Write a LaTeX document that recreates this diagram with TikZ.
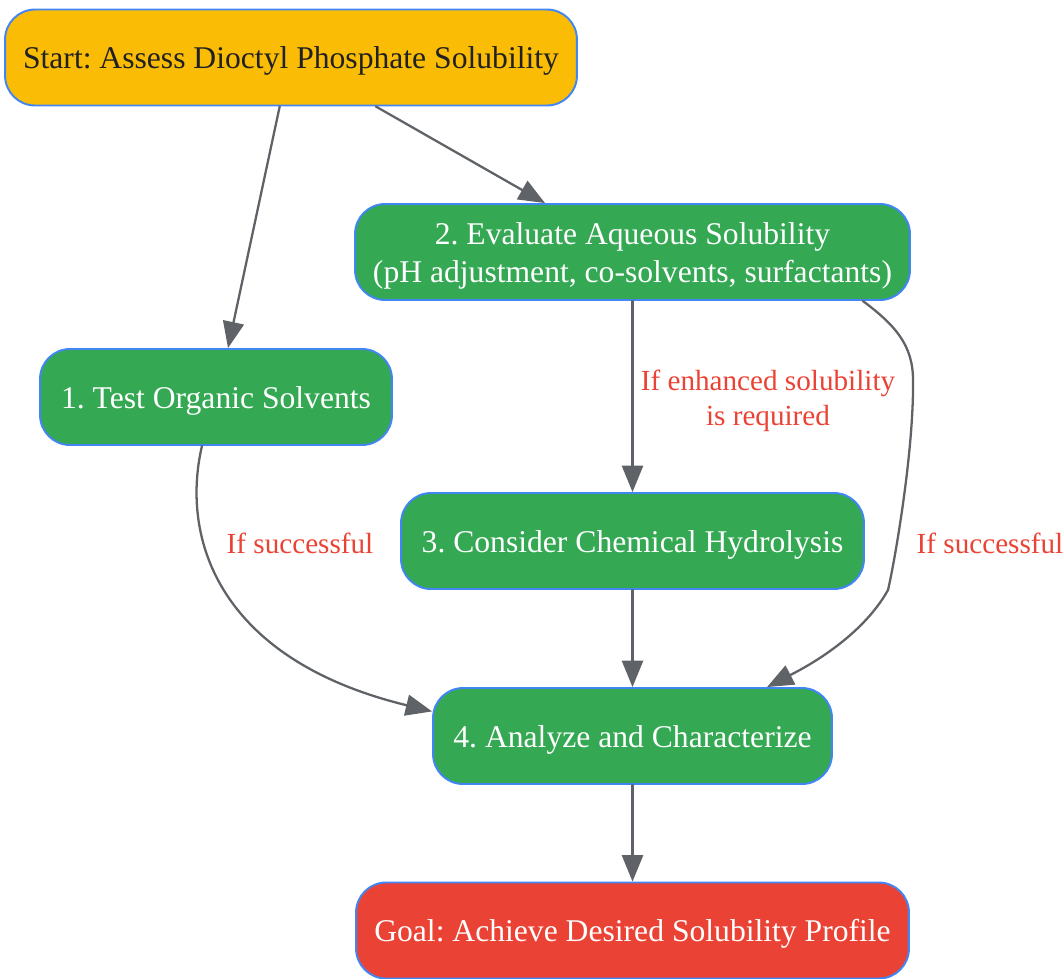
\documentclass[tikz,border=0pt]{standalone}
\usepackage{fontspec}
\setmainfont{Liberation Serif}
\frenchspacing
\usetikzlibrary{arrows.meta}
\definecolor{startc}{HTML}{FBBC05}
\definecolor{stepc}{HTML}{34A853}
\definecolor{goalc}{HTML}{EA4335}
\definecolor{bordc}{HTML}{4285F4}
\definecolor{edgec}{HTML}{5F6368}
\definecolor{labc}{HTML}{EA4335}
\definecolor{darktxt}{HTML}{202124}
\begin{document}
\begin{tikzpicture}[x=0.02cm, y=-0.02cm, line join=round, line cap=round,
	>={Triangle[length=15pt,width=12pt]},
	box/.style={draw=bordc, line width=1.1pt, rounded corners=0.6cm, minimum height=1.92cm,
		align=center, font=\fontsize{18}{22}\selectfont, inner sep=0pt, text height=17pt, text depth=4pt},
	stepbox/.style={box, fill=stepc, text=white},
	edge/.style={draw=edgec, line width=1.3pt, ->},
	lab/.style={text=labc, align=center, font=\fontsize{16.6}{20}\selectfont}]
	\useasboundingbox (0,0) rectangle (1064,978);
	% Knoten
	\node[box, fill=startc, text=darktxt, minimum width=11.44cm] (start) at (291,57.5) {Start: Assess Dioctyl Phosphate Solubility};
	\node[stepbox, minimum width=11.1cm, text height=39pt] (evaluate) at (632.5,252) {2. Evaluate Aqueous Solubility\\(pH adjustment, co-solvents, surfactants)};
	\node[stepbox, minimum width=7.04cm] (test) at (216,397) {1. Test Organic Solvents};
	\node[stepbox, minimum width=9.26cm] (hydro) at (632.5,541) {3. Consider Chemical Hydrolysis};
	\node[stepbox, minimum width=7.98cm] (analyze) at (632.5,736) {4. Analyze and Characterize};
	\node[box, fill=goalc, text=white, minimum width=11.06cm] (goal) at (632.5,930.5) {Goal: Achieve Desired Solubility Profile};
	% Pfeile
	\draw[edge] (start.257) -- (test.north-|228,0);
	\draw[edge] (start.330) -- (evaluate.north-|545,0);
	\draw[edge] (evaluate.south) -- (hydro.north);
	\draw[edge] (test.254) .. controls (180,540) and (220,660) .. (analyze.173);
	\draw[edge] (evaluate.348) .. controls (895,325) and (913,345) .. (913,380) .. controls (914,450) and (895,560) .. (888,590) .. controls (860,640) and (800,670) .. (analyze.20);
	\draw[edge] (hydro) -- (analyze);
	\draw[edge] (analyze) -- (goal);
	\node[lab] (lenh) at (768,401) {If enhanced solubility\\is required};
	\node[lab] (lsucc1) at (300,543) {If successful};
	\node[lab] (lsucc2) at (990,543) {If successful};
\end{tikzpicture}
\end{document}
